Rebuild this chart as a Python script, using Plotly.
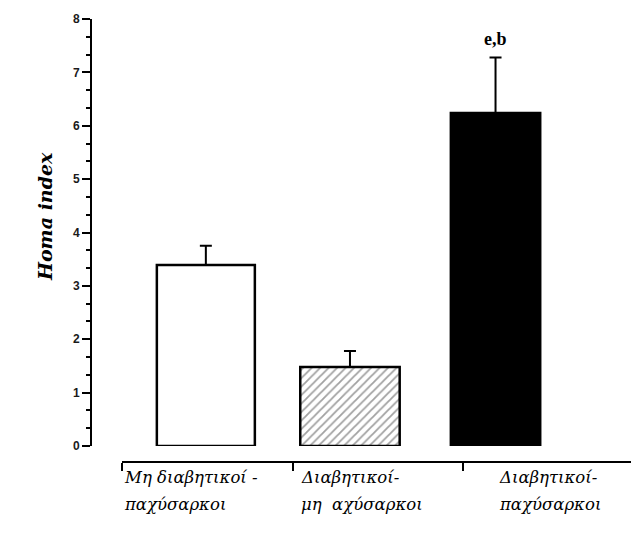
import plotly.graph_objects as go

# Homa index per group: mean and upper SEM
groups = ["Μη διαβητικοί - παχύσαρκοι", "Διαβητικοί- μη αχύσαρκοι", "Διαβητικοί- παχύσαρκοι"]
label_line1 = ["Μη διαβητικοί -", "Διαβητικοί-", "Διαβητικοί-"]
label_line2 = ["παχύσαρκοι", "μη  αχύσαρκοι", "παχύσαρκοι"]
homa_mean = [3.39, 1.48, 6.24]
homa_sem = [0.36, 0.30, 1.04]
sig_label = ["", "", "e,b"]
y_ticks = [0, 1, 2, 3, 4, 5, 6, 7, 8]

W, H = 631, 533
ML, MR, MT, MB = 92, 0, 19, 71
plot_w = W - ML - MR
plot_h = H - MT - MB

x_pos = [0, 1, 2.01]
bar_width = [0.68, 0.69, 0.62]
fill_colors = ["white", "white", "black"]
patterns = ["", "/", ""]

fig = go.Figure()
fig.add_trace(go.Bar(
    x=x_pos,
    y=homa_mean,
    width=bar_width,
    marker=dict(
        color=fill_colors,
        line=dict(color="black", width=2.5),
        pattern=dict(shape=patterns, fgcolor="#444444", bgcolor="white",
                     size=6, solidity=0.3, fillmode="overlay"),
    ),
    error_y=dict(type="data", symmetric=False, array=homa_sem,
                 arrayminus=[0, 0, 0], color="black", thickness=2, width=6),
    showlegend=False,
))

# category axis drawn as a separate bracket below the bars
fig.add_trace(go.Scatter(x=[0], y=[0], xaxis="x2", yaxis="y",
                         mode="markers", marker=dict(opacity=0),
                         showlegend=False, hoverinfo="skip"))

y_bottom = 16 / plot_h
fig.update_layout(
    width=W, height=H,
    margin=dict(l=ML, r=MR, t=MT, b=MB),
    plot_bgcolor="rgba(0,0,0,0)", paper_bgcolor="white",
    xaxis=dict(range=[-0.79, 2.95], domain=[0, 1], anchor="y",
               showline=False, showticklabels=False, ticks="",
               showgrid=False, zeroline=False, fixedrange=True),
    xaxis2=dict(range=[0, 2.985], domain=[30 / plot_w, 1], anchor="free",
                position=0, showline=True, linecolor="black",
                linewidth=2, ticks="outside", ticklen=8, tickwidth=2,
                tickcolor="black", tickvals=[0, 1, 2], showticklabels=False,
                showgrid=False, zeroline=False),
    yaxis=dict(range=[0, 8], domain=[y_bottom, 1], showline=True,
               linecolor="black", linewidth=2, ticks="outside", ticklen=8,
               tickwidth=2, tickcolor="black", tickvals=y_ticks,
               tickfont=dict(family="Liberation Sans", size=12, color="#1a1a1a",
                             weight="bold"),
               minor=dict(dtick=1 / 3, ticks="outside", ticklen=4,
                          tickwidth=1.5, tickcolor="black", showgrid=False),
               showgrid=False, zeroline=False),
)

annotations = []
# significance letters above the error bars
for xi, m, s, lab in zip(x_pos, homa_mean, homa_sem, sig_label):
    if lab:
        annotations.append(dict(x=xi, y=m + s, xref="x", yref="y", text=lab,
                                showarrow=False, yshift=18,
                                font=dict(family="Liberation Serif", size=18,
                                          color="black", weight="bold")))

# two-line group labels, left aligned after each bracket tick
label_x = [0.0, 1.04, 2.2]
for lx, l1, l2 in zip(label_x, label_line1, label_line2):
    for txt, yy in ((l1, -15), (l2, -42)):
        annotations.append(dict(x=lx, y=0, xref="x2", yref="paper", text=txt,
                                showarrow=False, xanchor="left", yanchor="middle",
                                yshift=yy,
                                font=dict(family="DejaVu Serif", size=16.5,
                                          color="black", style="italic")))

annotations.append(dict(x=-47 / plot_w, y=(462 - 217) / plot_h, xref="paper",
                        yref="paper", text="Homa index", textangle=-90,
                        showarrow=False, xanchor="center", yanchor="middle",
                        font=dict(family="DejaVu Serif", size=19,
                                  color="black", weight="bold", style="italic")))
fig.update_layout(annotations=annotations)

fig.write_html("out.html")
